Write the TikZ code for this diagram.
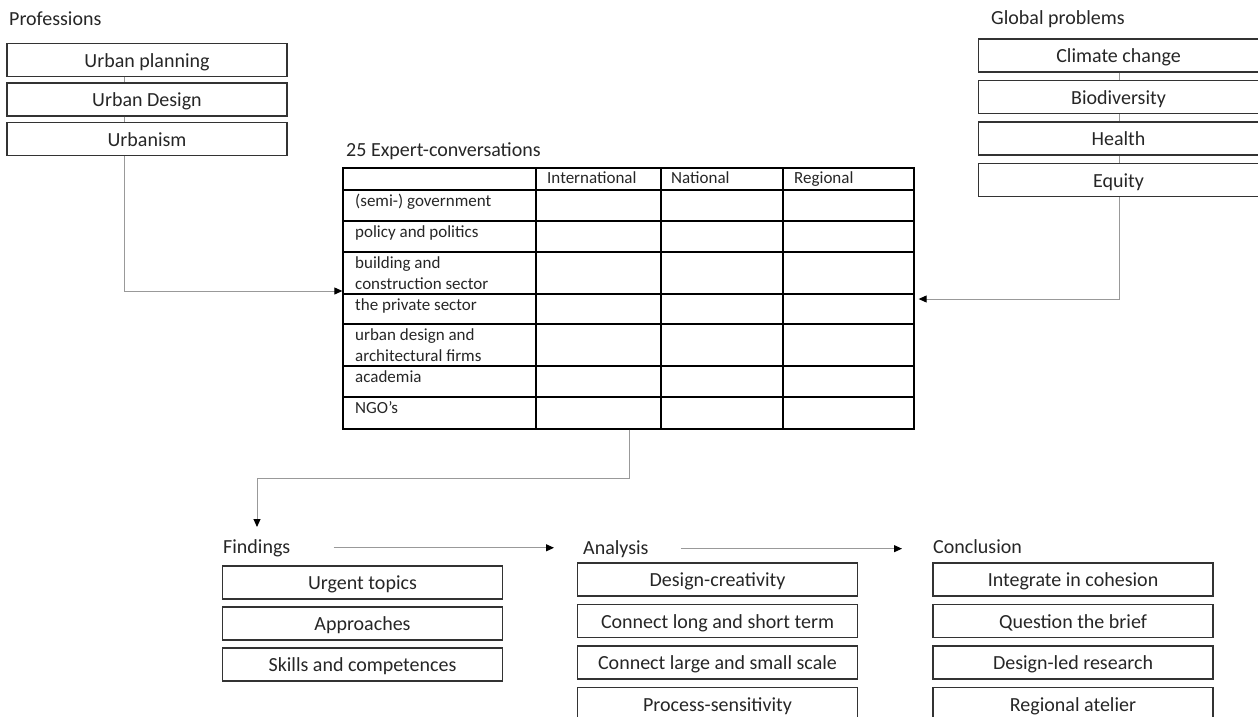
\documentclass[tikz,border=0pt]{standalone}
\usepackage{fontspec}
\setmainfont{Carlito}
\usetikzlibrary{calc}
\usetikzlibrary{arrows.meta}
\tikzstyle{heading} = [anchor=base west, inner sep=0pt, font=\fontsize{20}{24}\selectfont, text=black!85]
\tikzstyle{topic} = [rectangle, minimum width=280pt, minimum height=33pt, inner sep=0pt, text height=14pt, text depth=0pt, text centered, draw=black!80, line width=1.2pt, font=\fontsize{20}{24}\selectfont, text=black!85]
\tikzstyle{cell} = [anchor=north west, inner sep=0pt, align=left, font=\fontsize{17}{21}\selectfont, text=black!85]
\tikzstyle{rule} = [draw=black, line width=1.3pt]
\tikzstyle{link} = [draw=black!40, line width=1pt]
\tikzstyle{arrow} = [link, -{Triangle[length=8pt, width=7pt, color=black]}]
\begin{document}
\begin{tikzpicture}[x=1pt, y=-1pt, node distance=41.5pt]
\clip (0,0) rectangle (1258,717);

\node (prof) [heading] at (9,26) {Professions};
\node (urbplan) [topic] at (147,60) {Urban planning};
\node (urbdes) [topic, below of=urbplan, node distance=39.5pt] {Urban Design};
\node (urbism) [topic, below of=urbdes, node distance=39.5pt] {Urbanism};

\node (glob) [heading] at (991,25) {Global problems};
\node (climate) [topic] at (1118.5,55.5) {Climate change};
\node (biodiv) [topic, below of=climate] {Biodiversity};
\node (health) [topic, below of=biodiv] {Health};
\node (equity) [topic, below of=health] {Equity};

\node (title) [heading] at (346,156) {25 Expert-conversations};
\node (tbl) [rule, minimum width=571pt, minimum height=261pt, inner sep=0pt] at (628.5,298.5) {};
\foreach \y in {190,221,252,294,324,366,397}
  \draw [rule] (343,\y) -- (914,\y);
\foreach \x in {536,661,783}
  \draw [rule] (\x,168) -- (\x,429);

\node (intl) [cell] at (547,168.3) {\strut International};
\node (natl) [cell] at (671,168.3) {\strut National};
\node (regl) [cell] at (794,168.3) {\strut Regional};
\node (gov) [cell] at (355,191.3) {\strut (semi-) government};
\node (pol) [cell] at (355,222.3) {\strut policy and politics};
\node (build) [cell] at (355,253.3) {\strut building and\\\strut construction sector};
\node (priv) [cell] at (355,295.3) {\strut the private sector};
\node (firms) [cell] at (355,325.3) {\strut urban design and\\\strut architectural firms};
\node (acad) [cell] at (355,367.3) {\strut academia};
\node (ngo) [cell] at (355,398.3) {\strut NGO’s};

\node (find) [heading] at (223,553) {Findings};
\node (urgent) [topic] at (362.5,582.5) {Urgent topics};
\node (appr) [topic, below of=urgent, node distance=41pt] {Approaches};
\node (skills) [topic, below of=appr, node distance=41pt] {Skills and competences};

\node (analysis) [heading] at (583,554) {Analysis};
\node (creat) [topic] at (717.5,579.5) {Design-creativity};
\node (term) [topic, below of=creat] {Connect long and short term};
\node (largesmall) [topic, below of=term] {Connect large and small scale};
\node (proc) [topic, below of=largesmall] {Process-sensitivity};

\node (concl) [heading] at (933,553) {Conclusion};
\node (cohes) [topic] at (1073,579.5) {Integrate in cohesion};
\node (brief) [topic, below of=cohes] {Question the brief};
\node (dlr) [topic, below of=brief] {Design-led research};
\node (atelier) [topic, below of=dlr] {Regional atelier};

\coordinate (pbend) at (124,291);
\coordinate (gbend) at (1119,299);
\coordinate (tbend) at (629,478);
\coordinate (fin) at (257,527);

\draw [link] (urbplan.south -| pbend) -- (urbdes.north -| pbend);
\draw [link] (urbdes.south -| pbend) -- (urbism.north -| pbend);
\draw [arrow] (urbism.south -| pbend) -- (pbend) -- (tbl.west |- pbend);

\draw [link] (climate.south -| gbend) -- (biodiv.north -| gbend);
\draw [link] (biodiv.south -| gbend) -- (health.north -| gbend);
\draw [link] (health.south -| gbend) -- (equity.north -| gbend);
\draw [arrow] (equity.south -| gbend) -- (gbend) -- ($(tbl.east |- gbend)+(4,0)$);

\draw [arrow] (tbl.south -| tbend) -- (tbend) -| (fin);
\draw [arrow] ($(find.east)+(43,0)$) -- ($(find.east -| analysis.west)+(-29,0)$);
\draw [arrow] ($(analysis.east)+(32,0)$) -- ($(analysis.east -| concl.west)+(-31,0)$);

\end{tikzpicture}
\end{document}
